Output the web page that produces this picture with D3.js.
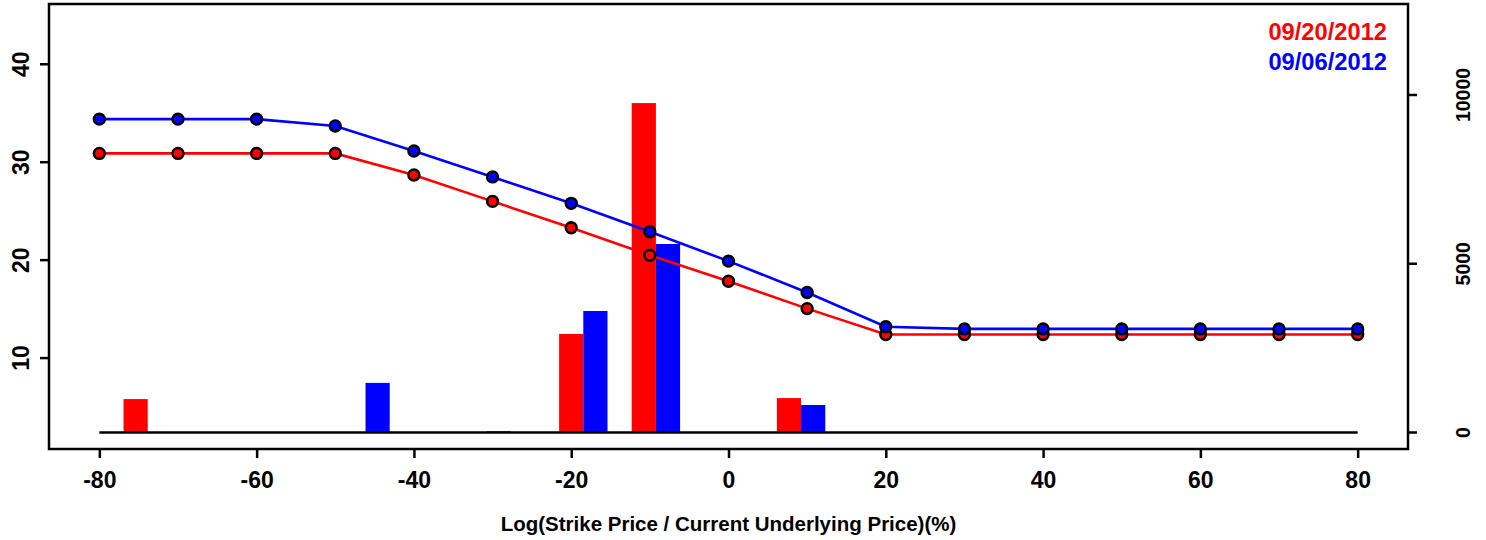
<!DOCTYPE html>
<html>
<head>
<meta charset="utf-8">
<script src="https://cdn.jsdelivr.net/npm/d3@7"></script>
<style>
  body { margin: 0; background: #fff; }
  text { font-family: "Liberation Sans", Arial, sans-serif; font-weight: bold; }
</style>
</head>
<body>
<div id="chart"></div>
<script>
// strikes, as log(strike / underlying) in %
const strikes = [-80, -70, -60, -50, -40, -30, -20, -10, 0, 10, 20, 30, 40, 50, 60, 70, 80];

// implied vol curves (left axis)
const ivRed = [30.9, 30.9, 30.9, 30.9, 28.7, 26.0, 23.3, 20.5, 17.85, 15.05, 12.4, 12.4, 12.4, 12.4, 12.4, 12.4, 12.4];
const ivBlue = [34.4, 34.4, 34.4, 33.7, 31.15, 28.5, 25.8, 22.9, 19.9, 16.7, 13.2, 12.98, 12.98, 12.98, 12.98, 12.98, 12.98];

// volume bars (right axis)
const volRed = [990, 0, 0, 0, 0, 40, 2920, 9760, 0, 1020, 0, 0, 0, 0, 0, 0, 0];
const volBlue = [0, 0, 0, 1470, 0, 0, 3600, 5585, 0, 815, 0, 0, 0, 0, 0, 0, 0];

const dates = ["09/20/2012", "09/06/2012"];
const colors = ["#ff0000", "#0000ff"];

const xTicks = [-80, -60, -40, -20, 0, 20, 40, 60, 80];
const leftTicks = [10, 20, 30, 40];
const rightTicks = [0, 5000, 10000];

const width = 1486;
const height = 540;
const box = { left: 49, right: 1408, top: 4, bottom: 449 };

const svg = d3
  .select("#chart")
  .append("svg")
  .attr("width", width)
  .attr("height", height);

// R style: data range padded by 4% on each side
const x = d3.scaleLinear().domain([-86.4, 86.4]).range([box.left, box.right]);
const yLeft = d3.scaleLinear().domain([2.4, 44.47]).range([432.5, 20.5]);
const yRight = d3.scaleLinear().domain([0, 12207]).range([432.5, 20.5]);

// bars come from a separate barplot: groups of 2 bars with a gap of 1
const xBar = d3.scaleLinear().domain([0, 52]).range([x(-80), x(80)]);

const barData = [];
strikes.forEach((s, i) => {
  barData.push({ u: 1 + 3 * i, v: volRed[i], c: colors[0] });
  barData.push({ u: 2 + 3 * i, v: volBlue[i], c: colors[1] });
});

svg
  .selectAll(".bar")
  .data(barData.filter((d) => d.v > 0))
  .enter()
  .append("rect")
  .attr("class", "bar")
  .attr("x", (d) => xBar(d.u))
  .attr("width", xBar(1) - xBar(0))
  .attr("y", (d) => yRight(d.v))
  .attr("height", (d) => yRight(0) - yRight(d.v))
  .attr("fill", (d) => d.c);

svg
  .append("line")
  .attr("x1", x(-80))
  .attr("x2", x(80))
  .attr("y1", yRight(0))
  .attr("y2", yRight(0))
  .attr("stroke", "#000")
  .attr("stroke-width", 2.5);

// lines + points, red first so blue sits on top
[ivRed, ivBlue].forEach((series, k) => {
  const pts = strikes.map((s, i) => ({ s: s, v: series[i] }));

  const line = d3
    .line()
    .x((d) => x(d.s))
    .y((d) => yLeft(d.v));

  svg
    .append("path")
    .datum(pts)
    .attr("fill", "none")
    .attr("stroke", colors[k])
    .attr("stroke-width", 2.6)
    .attr("d", line);

  svg
    .selectAll(`.pt-${k}`)
    .data(pts)
    .enter()
    .append("circle")
    .attr("class", `pt-${k}`)
    .attr("cx", (d) => x(d.s))
    .attr("cy", (d) => yLeft(d.v))
    .attr("r", 5.4)
    .attr("fill", colors[k])
    .attr("stroke", "#000")
    .attr("stroke-width", 2.6);
});

// frame
svg
  .append("rect")
  .attr("x", box.left)
  .attr("y", box.top)
  .attr("width", box.right - box.left)
  .attr("height", box.bottom - box.top)
  .attr("fill", "none")
  .attr("stroke", "#000")
  .attr("stroke-width", 2.5);

// bottom axis (plain hyphen for negatives, as in the original)
const xAxis = d3
  .axisBottom(x)
  .tickValues(xTicks)
  .tickSize(9)
  .tickPadding(14)
  .tickFormat((d) => String(d));
const gx = svg
  .append("g")
  .attr("transform", `translate(0,${box.bottom})`)
  .call(xAxis);
gx.select(".domain").remove();
gx.selectAll(".tick line").attr("stroke-width", 2.5);
gx.selectAll(".tick text")
  .style("font-size", "23px")
  .attr("fill", "#000")
  .style("font-family", "'Liberation Sans', Arial, sans-serif")
  .style("font-weight", "bold");

svg
  .append("text")
  .attr("x", x(0))
  .attr("y", 531)
  .attr("text-anchor", "middle")
  .style("font-size", "20.5px")
  .text("Log(Strike Price / Current Underlying Price)(%)");

// left axis, labels turned like R's las=0
const gl = svg.append("g");
leftTicks.forEach((t) => {
  gl.append("line")
    .attr("x1", box.left)
    .attr("x2", box.left - 9)
    .attr("y1", yLeft(t))
    .attr("y2", yLeft(t))
    .attr("stroke", "#000")
    .attr("stroke-width", 2.5);
  gl.append("text")
    .attr("transform", `translate(29,${yLeft(t)}) rotate(-90)`)
    .attr("text-anchor", "middle")
    .style("font-size", "23px")
    .text(t);
});

// right axis
const gr = svg.append("g");
rightTicks.forEach((t) => {
  gr.append("line")
    .attr("x1", box.right)
    .attr("x2", box.right + 9)
    .attr("y1", yRight(t))
    .attr("y2", yRight(t))
    .attr("stroke", "#000")
    .attr("stroke-width", 2.5);
  gr.append("text")
    .attr("transform", `translate(1470,${yRight(t)}) rotate(-90)`)
    .attr("text-anchor", "middle")
    .style("font-size", "19.5px")
    .text(t);
});

// legend in the top right corner
dates.forEach((d, i) => {
  svg
    .append("text")
    .attr("x", 1387)
    .attr("y", 40 + i * 29.5)
    .attr("text-anchor", "end")
    .attr("fill", colors[i])
    .style("font-size", "23.7px")
    .text(d);
});
</script>
</body>
</html>
